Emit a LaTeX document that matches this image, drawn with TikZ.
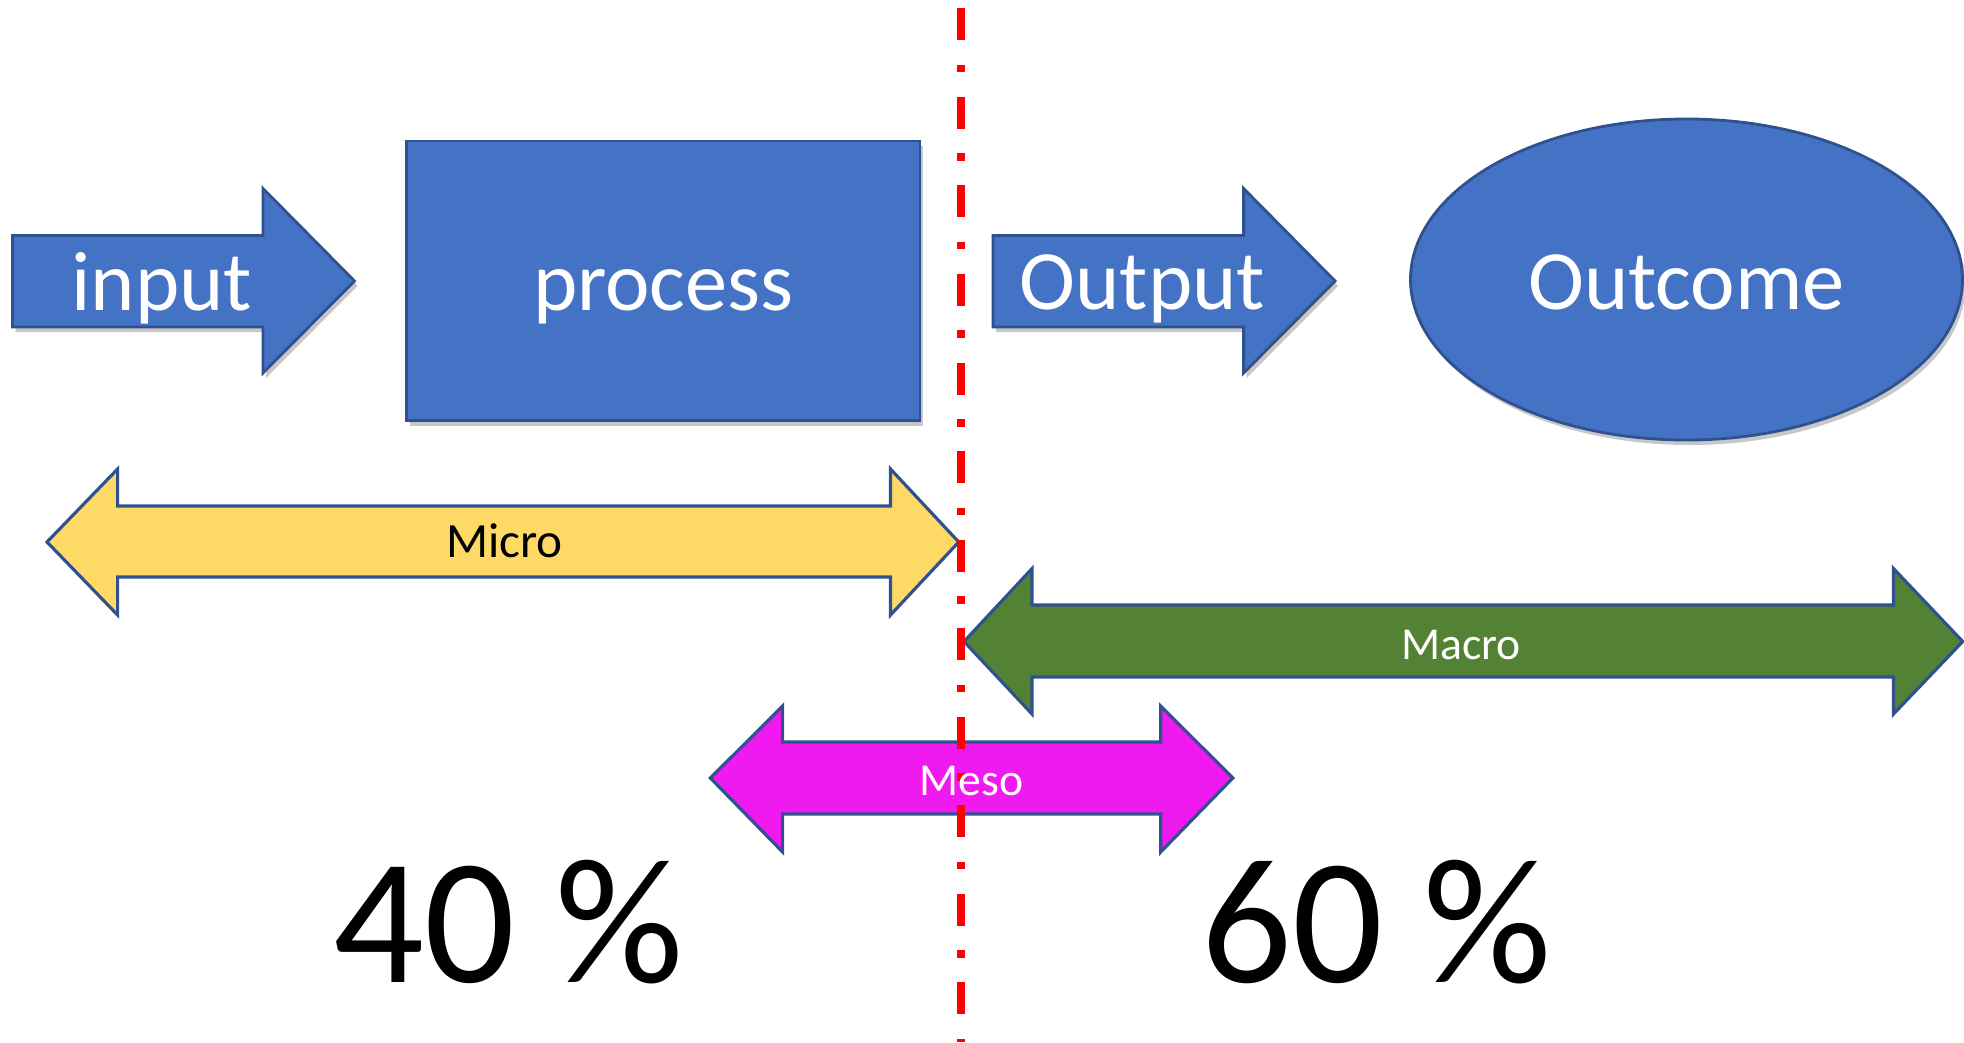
\documentclass[tikz,border=0pt]{standalone}
\usepackage{fontspec}
\setmainfont{Carlito}
\usetikzlibrary{shadows}
\definecolor{oblue}{HTML}{4472C4}
\definecolor{oline}{HTML}{2F528F}
\definecolor{ogold}{HTML}{FFD966}
\definecolor{ogreen}{HTML}{548235}
\definecolor{omag}{RGB}{240,26,240}
\definecolor{ored}{RGB}{255,0,0}
\tikzset{
  blueshape/.style={fill=oblue, draw=oline, line width=0.8pt, line join=miter,
    drop shadow={shadow xshift=0.03cm, shadow yshift=-0.05cm, opacity=0.22, fill=black}},
  bandarrow/.style={draw=oline, line width=0.9pt, line join=miter},
  bigtxt/.style={font=\fontsize{24}{28}\selectfont, text=white, inner sep=0pt, anchor=base},
  bandtxt/.style={inner sep=0pt, anchor=base},
  pcttxt/.style={font=\fontsize{51}{60}\selectfont, text=black, inner sep=0pt, anchor=base},
  divider/.style={draw=ored, line width=2.19pt, line cap=butt,
    dash pattern=on 0.32cm off 0.245cm on 0.075cm off 0.245cm}
}
\begin{document}
\begin{tikzpicture}[x=0.01cm,y=-0.01cm]
\useasboundingbox (0,0) rectangle (1964,1042);
% top row shapes
\path[blueshape] (12.5,235.5) -- (263,235.5) -- (263,188.5) -- (354.5,281) -- (263,373) -- (263,327) -- (12.5,327) -- cycle;
\path[blueshape] (406.8,141) rectangle (920,420.5);
\path[blueshape] (993,235.5) -- (1243.6,235.5) -- (1243.6,188.5) -- (1335,281) -- (1243.6,373) -- (1243.6,327) -- (993,327) -- cycle;
\path[blueshape] (1686.5,279.5) ellipse [x radius=276, y radius=160.5];
% band arrows
\path[bandarrow, fill=ogold] (47,542) -- (117.6,469) -- (117.6,506) -- (890.5,506) -- (890.5,469) -- (958.7,542) -- (890.5,615) -- (890.5,577) -- (117.6,577) -- (117.6,615) -- cycle;
\path[bandarrow, fill=ogreen] (964,641.5) -- (1032,568.6) -- (1032,605) -- (1893.5,605) -- (1893.5,568.6) -- (1962.7,641.5) -- (1893.5,714) -- (1893.5,677) -- (1032,677) -- (1032,714) -- cycle;
\path[bandarrow, fill=omag] (710.4,778) -- (782.6,706) -- (782.6,742) -- (1160.7,742) -- (1160.7,706) -- (1232.8,778) -- (1160.7,852) -- (1160.7,814) -- (782.6,814) -- (782.6,852) -- cycle;
% divider
\coordinate (divtop) at (961,8.3);
\coordinate (divbot) at (961,1042);
\draw[divider] (divtop) -- (divbot);
% labels
\node[bigtxt] (input) at (162,310) {input};
\node[bigtxt] (process) at (663.4,310) {process};
\node[bigtxt] (output) at (1142.5,309.6) {Output};
\node[bigtxt] (outcome) at (1686.5,309.6) {Outcome};
\node[bandtxt, font=\fontsize{14}{17}\selectfont, text=black] (micro) at (504.5,557.7) {Micro};
\node[bandtxt, font=\fontsize{13}{16}\selectfont, text=white] (macro) at (1461,659.3) {Macro};
\node[bandtxt, font=\fontsize{13}{16}\selectfont, text=white] (meso) at (971.7,795) {Meso};
\node[pcttxt] (forty) at (508.6,982) {40 \%};
\node[pcttxt] (sixty) at (1376.5,982) {60 \%};
\end{tikzpicture}
\end{document}
